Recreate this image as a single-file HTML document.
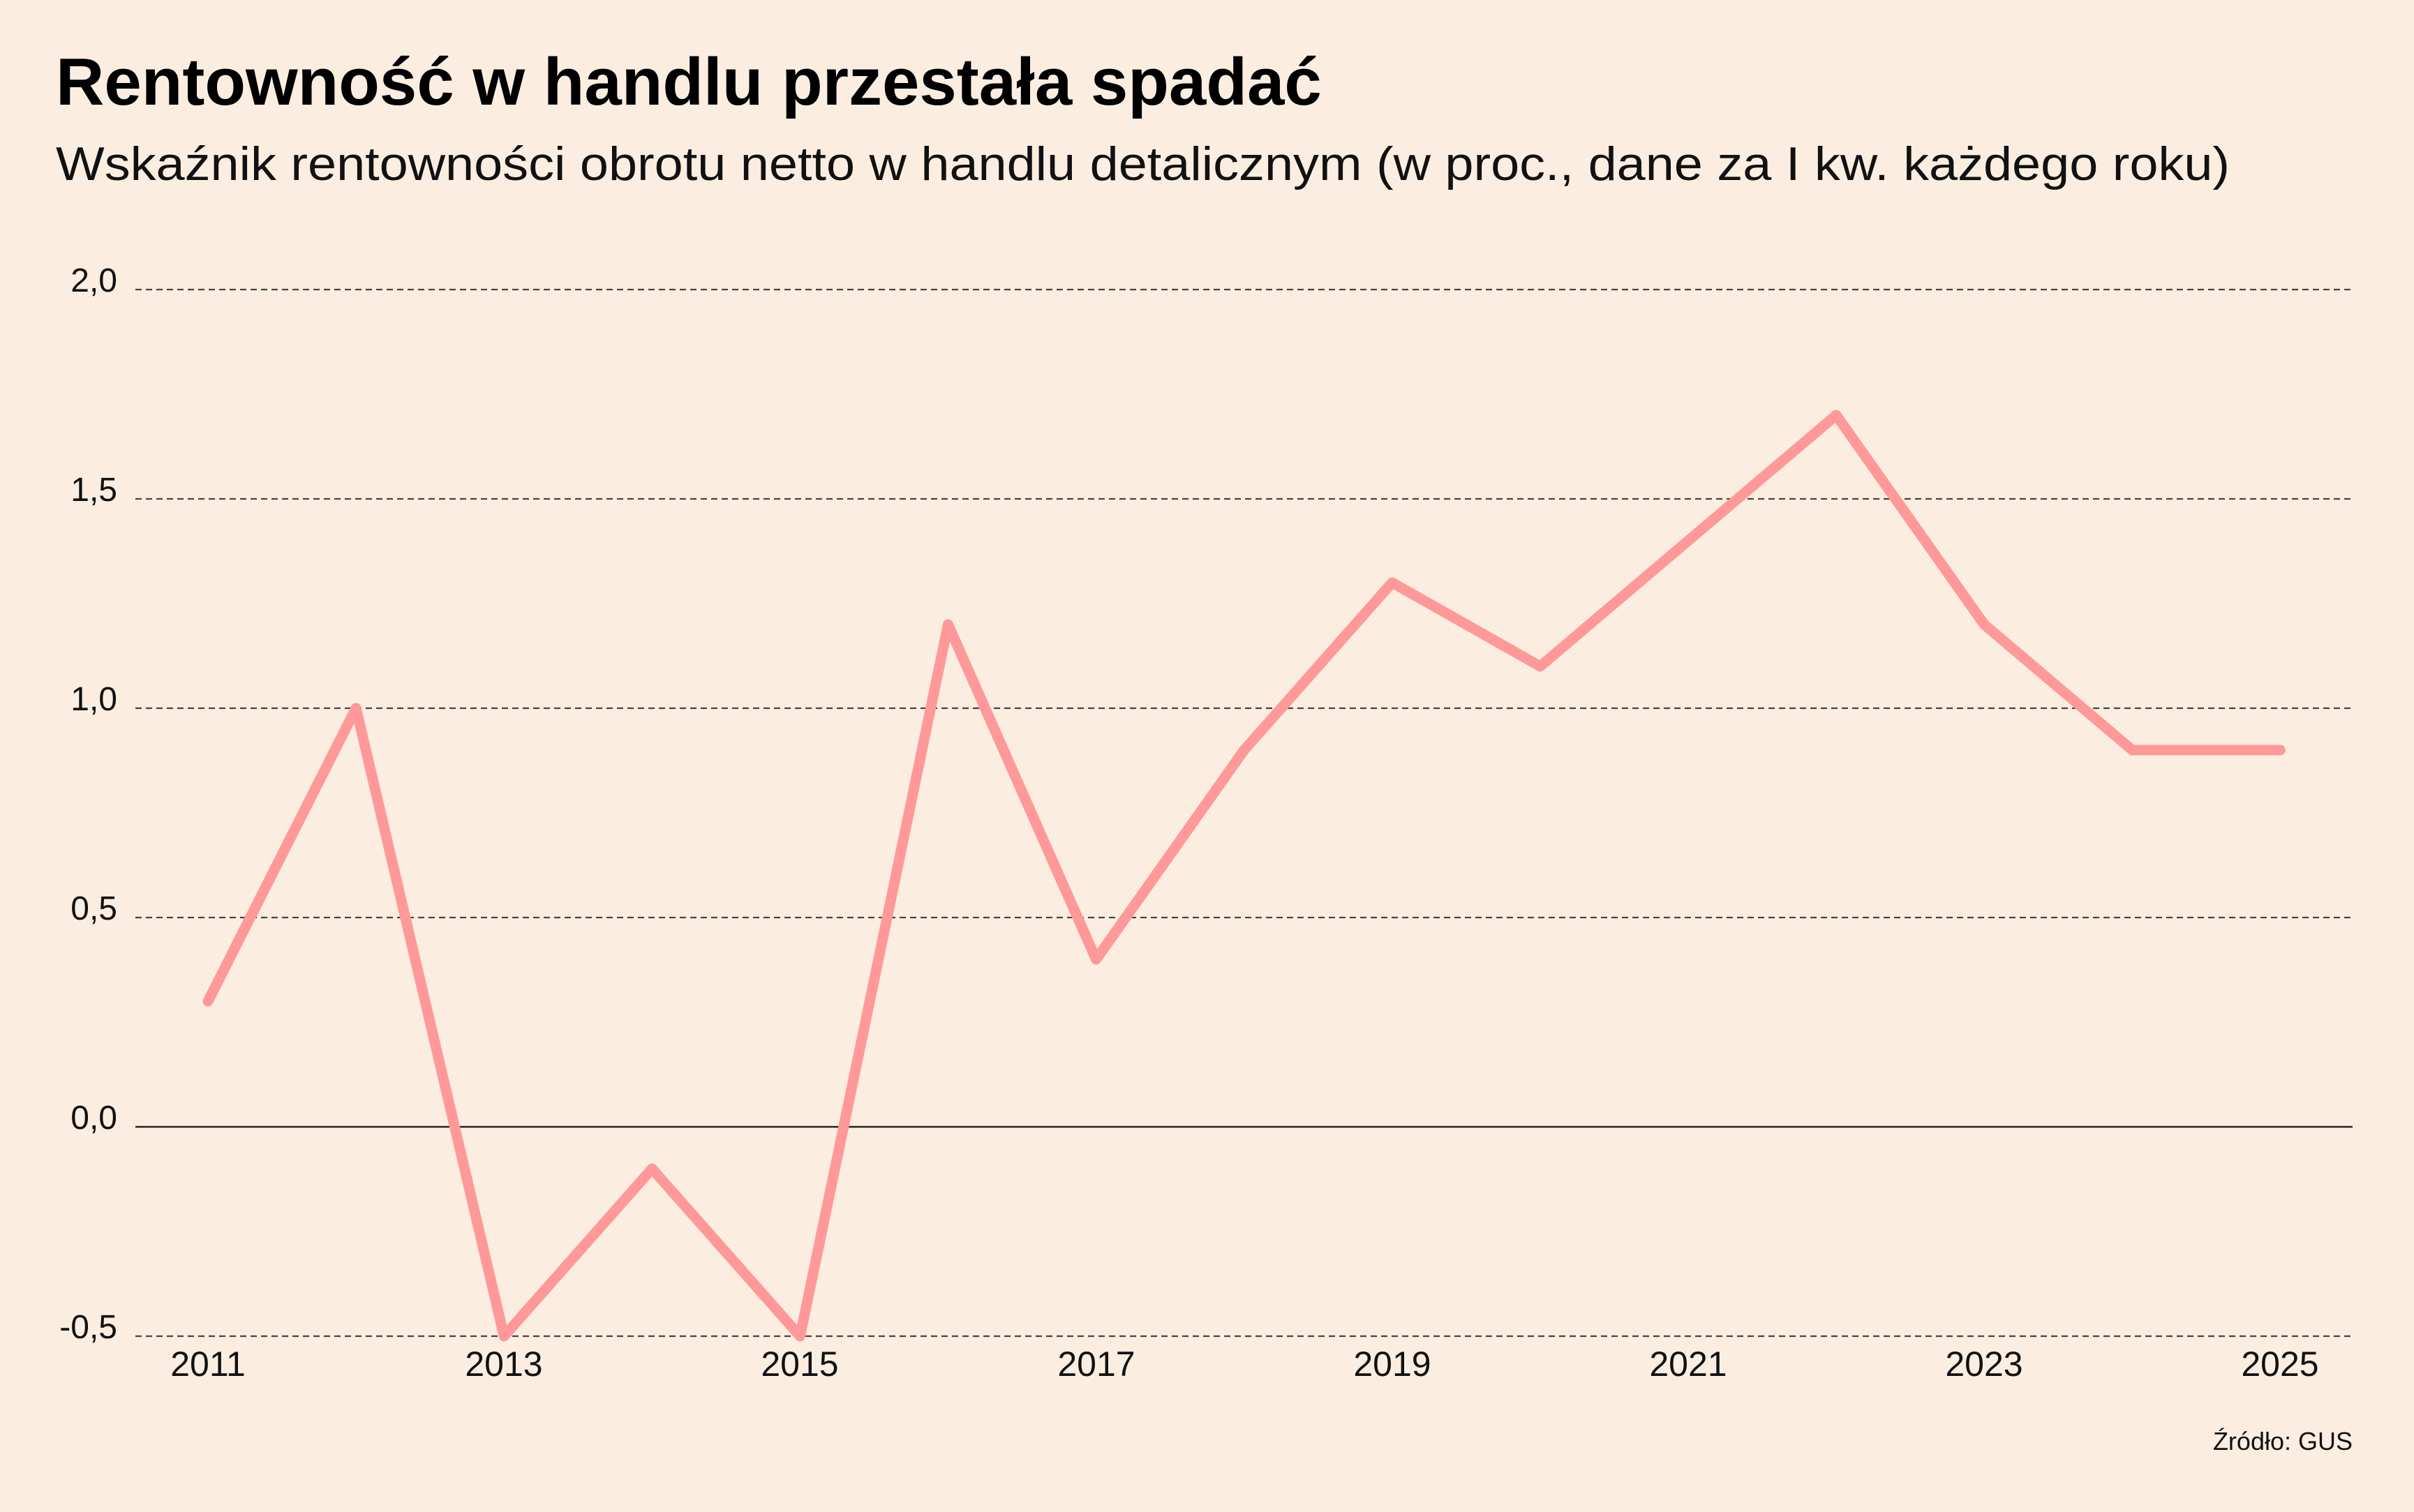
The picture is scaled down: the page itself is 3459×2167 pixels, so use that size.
<!DOCTYPE html>
<html><head><meta charset="utf-8"><style>
html,body{margin:0;padding:0;background:#fbeee1;}
svg{display:block;}
</style></head><body>
<svg width="3459" height="2167" viewBox="0 0 3459 2167" xmlns="http://www.w3.org/2000/svg" font-family="'Liberation Sans', sans-serif">
<rect width="3459" height="2167" fill="#fbeee1"/>
<text x="80" y="150" font-size="96" font-weight="bold" fill="#000">Rentowność w handlu przestała spadać</text>
<text x="80" y="258" font-size="68" fill="#111" textLength="3115" lengthAdjust="spacingAndGlyphs">Wskaźnik rentowności obrotu netto w handlu detalicznym (w proc., dane za I kw. każdego roku)</text>
<g stroke="#444" stroke-width="2.2" stroke-dasharray="9,6">
<line x1="194" y1="415" x2="3371" y2="415"/>
<line x1="194" y1="715" x2="3371" y2="715"/>
<line x1="194" y1="1015" x2="3371" y2="1015"/>
<line x1="194" y1="1315" x2="3371" y2="1315"/>
<line x1="194" y1="1915" x2="3371" y2="1915"/>
</g>
<line x1="194" y1="1615" x2="3371" y2="1615" stroke="#222" stroke-width="2.5"/>
<g font-size="48" fill="#111" text-anchor="end">
<text x="168" y="418">2,0</text>
<text x="168" y="718">1,5</text>
<text x="168" y="1018">1,0</text>
<text x="168" y="1318">0,5</text>
<text x="168" y="1618">0,0</text>
<text x="168" y="1918">-0,5</text>
</g>
<g font-size="50" fill="#111" text-anchor="middle">
<text x="298" y="1972">2011</text>
<text x="722" y="1972">2013</text>
<text x="1146" y="1972">2015</text>
<text x="1571" y="1972">2017</text>
<text x="1995" y="1972">2019</text>
<text x="2419" y="1972">2021</text>
<text x="2843" y="1972">2023</text>
<text x="3267" y="1972">2025</text>
</g>
<text x="3371" y="2078" font-size="36" fill="#111" text-anchor="end">Źródło: GUS</text>
<polyline fill="none" stroke="#ff9999" stroke-width="15" stroke-linejoin="round" stroke-linecap="round"
points="298,1435 510.1,1015 722.2,1915 934.3,1675 1146.4,1915 1358.5,895 1570.6,1375 1782.7,1075 1994.8,835 2206.9,955 2419,775 2631.1,595 2843.2,895 3055.3,1075 3267.4,1075"/>
</svg>
</body></html>
